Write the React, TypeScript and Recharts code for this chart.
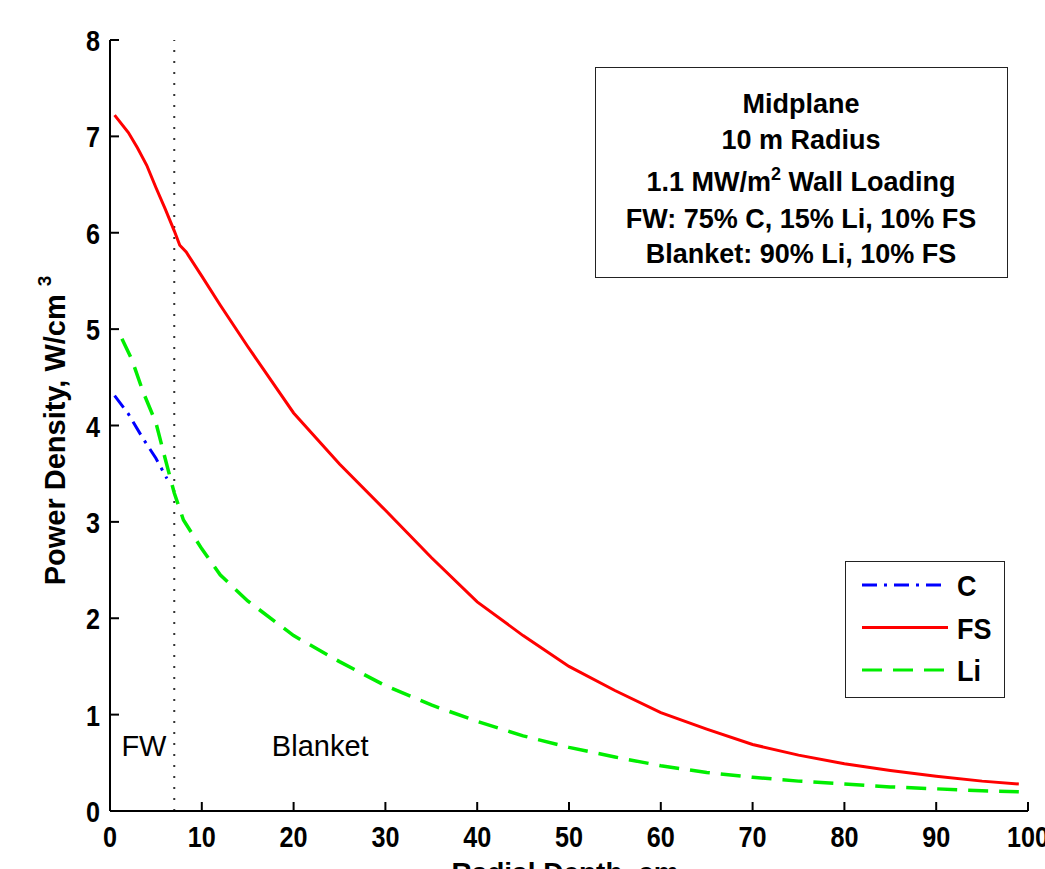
import { LineChart, Line, XAxis, YAxis, ReferenceLine, ReferenceDot, Legend } from 'recharts'

// radial depth (cm) / power density (W/cm^3)
const cDepth = [0.5, 2, 3.5, 5, 6.2]
const cPower = [4.31, 4.12, 3.88, 3.66, 3.45]

const fsDepth = [0.5, 2, 3, 4, 5, 6, 7, 7.6, 8.3, 10, 12, 15, 20, 25, 30, 35, 40, 45, 50, 55, 60, 65, 70, 75, 80, 85, 90, 95, 99]
const fsPower = [7.22, 7.04, 6.88, 6.7, 6.47, 6.25, 6.02, 5.87, 5.8, 5.55, 5.25, 4.82, 4.13, 3.6, 3.12, 2.63, 2.17, 1.82, 1.5, 1.25, 1.02, 0.85, 0.69, 0.58, 0.49, 0.42, 0.36, 0.31, 0.28]

const liDepth = [1.3, 2.4, 3.6, 5, 6, 7, 8, 10, 12, 15, 20, 25, 30, 35, 40, 45, 50, 55, 60, 65, 70, 75, 80, 85, 90, 95, 99]
const liPower = [4.9, 4.68, 4.35, 4.03, 3.66, 3.3, 3.02, 2.72, 2.45, 2.18, 1.82, 1.55, 1.3, 1.1, 0.93, 0.78, 0.66, 0.56, 0.47, 0.4, 0.35, 0.31, 0.28, 0.25, 0.23, 0.21, 0.2]

const xTicks = [0, 10, 20, 30, 40, 50, 60, 70, 80, 90, 100]
const yTicks = [0, 1, 2, 3, 4, 5, 6, 7, 8]

const boxLines = ['Midplane', '10 m Radius', '1.1 MW/m2 Wall Loading', 'FW: 75% C, 15% Li, 10% FS', 'Blanket: 90% Li, 10% FS']

const zip = (xs: number[], ys: number[]) => xs.map((x, i) => ({ depth: x, power: ys[i] }))

const cData = zip(cDepth, cPower)
const fsData = zip(fsDepth, fsPower)
const liData = zip(liDepth, liPower)

const SANS = '"Liberation Sans", Arial, Helvetica, sans-serif'
const TICK_LEN = 9

// tick digits in the original are tall and condensed
function TickText({ x, y, anchor, children }: any) {
  return (
    <text
      transform={`translate(${x} ${y}) scale(0.84 1)`}
      textAnchor={anchor}
      fontFamily={SANS}
      fontWeight="bold"
      fontSize={30}
      fill="#000"
    >
      {children}
    </text>
  )
}

function BottomTick({ x, y, payload }: any) {
  return (
    <g>
      <line x1={x} x2={x} y1={y} y2={y - TICK_LEN} stroke="#000" strokeWidth={2} />
      <TickText x={x} y={y + 36} anchor="middle">{payload.value}</TickText>
    </g>
  )
}

function TopTick({ x, y }: any) {
  return <line x1={x} x2={x} y1={y} y2={y + TICK_LEN} stroke="#000" strokeWidth={2} />
}

function LeftTick({ x, y, payload }: any) {
  return (
    <g>
      <line x1={x} x2={x + TICK_LEN} y1={y} y2={y} stroke="#000" strokeWidth={2} />
      <TickText x={x - 10} y={y + 11} anchor="end">{payload.value}</TickText>
    </g>
  )
}

function RightTick({ x, y }: any) {
  return <line x1={x} x2={x - TICK_LEN} y1={y} y2={y} stroke="#000" strokeWidth={2} />
}

function YTitle({ viewBox }: any) {
  const cx = 55
  const cy = viewBox.y + viewBox.height / 2 + 5
  return (
    <text
      x={cx}
      y={cy}
      transform={`rotate(-90 ${cx} ${cy})`}
      textAnchor="middle"
      dominantBaseline="central"
      fontFamily={SANS}
      fontWeight="bold"
      fontSize={29}
      fill="#000"
    >
      Power Density, W/cm
      <tspan dx={8} dy={-11} fontSize={19}>3</tspan>
    </text>
  )
}

function XTitle({ viewBox }: any) {
  return (
    <text x={viewBox.x + viewBox.width / 2 - 4} y={882} textAnchor="middle" fontFamily={SANS} fontWeight="bold" fontSize={28} fill="#000">
      Radial Depth, cm
    </text>
  )
}

function LegendBox({ payload }: any) {
  return (
    <div style={{ width: 160, height: 137, border: '1.5px solid #222', boxSizing: 'border-box', background: '#fff' }}>
      <svg width={157} height={134}>
        {(payload || []).map((p: any, i: number) => {
          const y = 23 + i * 42.5
          return (
            <g key={p.value}>
              <line x1={16} x2={102} y1={y} y2={y} stroke={p.color} strokeWidth={3} strokeDasharray={p.payload?.strokeDasharray} />
              <text
                transform={`translate(111 ${y + 11}) scale(0.9 1)`}
                fontFamily={SANS}
                fontWeight="bold"
                fontSize={30}
                fill="#000"
              >
                {p.value}
              </text>
            </g>
          )
        })}
      </svg>
    </div>
  )
}

export default function App() {
  const baselines = [45, 81, 123, 160, 195]
  return (
    <div style={{ position: 'absolute', left: 0, top: 0, width: 1045, height: 869, background: '#fff', overflow: 'hidden' }}>
      <LineChart width={1045} height={869} margin={{ top: 40, right: 17, bottom: 0, left: 0 }}>
        <XAxis
          type="number"
          dataKey="depth"
          domain={[0, 100]}
          ticks={xTicks}
          allowDataOverflow
          height={58}
          tickLine={false}
          tickSize={0}
          tickMargin={0}
          tick={<BottomTick />}
          axisLine={{ stroke: '#000', strokeWidth: 2 }}
          label={<XTitle />}
        />
        <XAxis
          xAxisId="top"
          orientation="top"
          type="number"
          dataKey="depth"
          domain={[0, 100]}
          ticks={xTicks}
          height={0}
          tickLine={false}
          tickSize={0}
          tickMargin={0}
          tick={<TopTick />}
          axisLine={{ stroke: '#000', strokeWidth: 2 }}
        />
        <YAxis
          type="number"
          domain={[0, 8]}
          ticks={yTicks}
          allowDataOverflow
          width={110}
          tickLine={false}
          tickSize={0}
          tickMargin={0}
          tick={<LeftTick />}
          axisLine={{ stroke: '#000', strokeWidth: 2 }}
          label={<YTitle />}
        />
        <YAxis
          yAxisId="right"
          orientation="right"
          type="number"
          domain={[0, 8]}
          ticks={yTicks}
          width={0}
          tickLine={false}
          tickSize={0}
          tickMargin={0}
          tick={<RightTick />}
          axisLine={{ stroke: '#000', strokeWidth: 2 }}
        />
        <ReferenceLine x={7} stroke="#333" strokeWidth={2} strokeDasharray="2 9" />
        <ReferenceDot
          x={3.7}
          y={0.68}
          r={0}
          stroke="none"
          label={{ value: 'FW', position: 'center', fontSize: 29, fill: '#000', fontFamily: SANS }}
        />
        <ReferenceDot
          x={22.9}
          y={0.68}
          r={0}
          stroke="none"
          label={{ value: 'Blanket', position: 'center', fontSize: 29, fill: '#000', fontFamily: SANS }}
        />
        <Line
          data={cData}
          dataKey="power"
          name="C"
          stroke="#0000ff"
          strokeWidth={3}
          strokeDasharray="15 7 3 7"
          dot={false}
          isAnimationActive={false}
        />
        <Line
          data={fsData}
          dataKey="power"
          name="FS"
          stroke="#ff0000"
          strokeWidth={3}
          dot={false}
          isAnimationActive={false}
        />
        <Line
          data={liData}
          dataKey="power"
          name="Li"
          stroke="#00ee00"
          strokeWidth={3.5}
          strokeDasharray="20 11"
          dot={false}
          isAnimationActive={false}
        />
        <Legend
          layout="horizontal"
          verticalAlign="middle"
          align="center"
          content={<LegendBox />}
          wrapperStyle={{ left: 845, top: 561, width: 160, height: 137 }}
        />
      </LineChart>
      <div
        style={{
          position: 'absolute',
          left: 595,
          top: 67,
          width: 413,
          height: 211,
          border: '1.5px solid #222',
          boxSizing: 'border-box',
          background: '#fff',
        }}
      >
        <svg width={410} height={208}>
          {boxLines.map((line, i) => (
            <text
              key={line}
              x={205}
              y={baselines[i]}
              textAnchor="middle"
              fontFamily={SANS}
              fontWeight="bold"
              fontSize={27}
              fill="#000"
            >
              {line === '1.1 MW/m2 Wall Loading' ? (
                <>
                  1.1 MW/m<tspan dy={-11} fontSize={18}>2</tspan>
                  <tspan dy={11}> Wall Loading</tspan>
                </>
              ) : (
                line
              )}
            </text>
          ))}
        </svg>
      </div>
    </div>
  )
}
